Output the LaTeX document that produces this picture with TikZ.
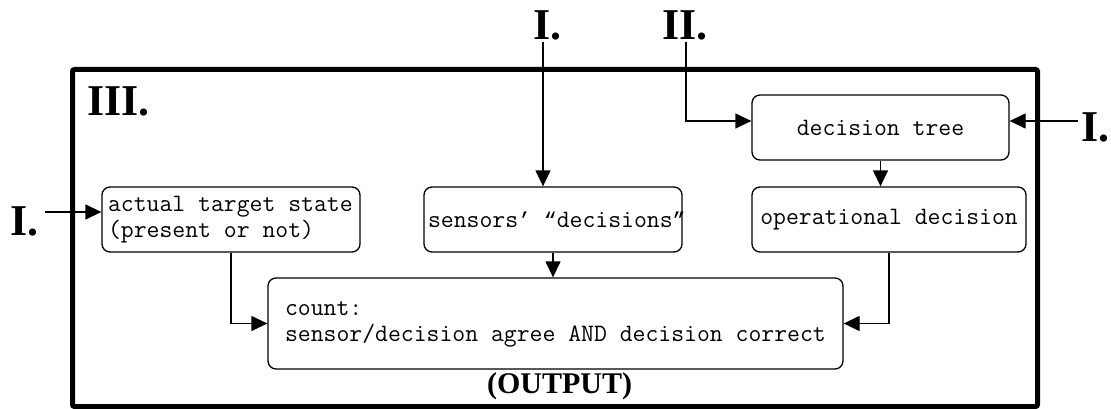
\documentclass[tikz,border=0pt]{standalone}
\usepackage{fontspec}
\setmainfont{Liberation Serif}
\newfontfamily\qmono{Liberation Mono}
\DeclareRobustCommand\boxfont{\ttfamily\fontsize{25}{26}\selectfont\fontdimen2\font=\fontcharwd\font`x\fontdimen3\font=0pt\fontdimen4\font=0pt\relax}
\newcommand\qq[1]{{\qmono\fontsize{21.5}{26}\selectfont#1}}
\newcommand\lines[2]{\makebox[#1][l]{\begin{tabular}{@{}l@{}}#2\end{tabular}}}
\usetikzlibrary{arrows.meta,calc}
\begin{document}
\begin{tikzpicture}[x=1pt,y=-1pt,
 box/.style={draw, line width=1.3pt, rounded corners=8pt, font=\boxfont, inner sep=0pt, minimum height=65pt},
 num/.style={font=\bfseries\fontsize{44}{44}\selectfont, inner sep=0pt},
 arr/.style={line width=1.3pt, -{Triangle[length=16pt,width=15pt]}}]
\useasboundingbox (0,0) rectangle (1111,409);
\draw[line width=5pt, rounded corners=2pt] (72.5,69.5) rectangle (1037.5,406.5);
\node[num, anchor=base west] (n3) at (87,116) {III.};
\node[num, anchor=base west] (nl) at (10,235) {I.};
\node[num, anchor=base west] (nt) at (533,40) {I.};
\node[num, anchor=base west] (nii) at (662,40) {II.};
\node[num, anchor=base west] (nr) at (1081,142) {I.};
\coordinate (li) at (45,212);
\coordinate (ti) at (543,42);
\coordinate (tii) at (686,42);
\coordinate (ri) at (1078,121);
\node[box, minimum width=258pt] (ats) at (231,219.5) {\lines{246pt}{actual target state\\(present or not)}};
\node[box, minimum width=258pt] (sens) at (553,219.5) {\makebox[250pt][l]{sensors\qq{’} \qq{“}decisions\qq{”}}};
\node[box, minimum width=257pt] (dt) at (880.5,127.5) {decision tree};
\node[box, minimum width=274pt] (op) at (889,219.5) {operational decision};
\node[box, minimum width=575pt, minimum height=91pt] (cnt) at (555.5,323.5) {\lines{541pt}{count:\\sensor/decision agree AND decision correct}};
\node[font=\bfseries\fontsize{30}{30}\selectfont, inner sep=0pt, anchor=base] (out) at (559.5,393) {(OUTPUT)};
\draw[arr] (li) -- (ats.west |- li);
\draw[arr] (ti) -- (ti |- sens.north);
\draw[arr] (tii) |- ($(dt.west)+(0,-6.5)$);
\draw[arr] (ri) -- ($(dt.east)+(0,-6.5)$);
\draw[arr] (dt.south) -- (dt.south |- op.north);
\draw[arr] (sens.south) -- (sens.south |- cnt.north);
\draw[arr] (ats.south) |- (cnt.west);
\draw[arr] (op.south) |- (cnt.east);
\end{tikzpicture}
\end{document}
